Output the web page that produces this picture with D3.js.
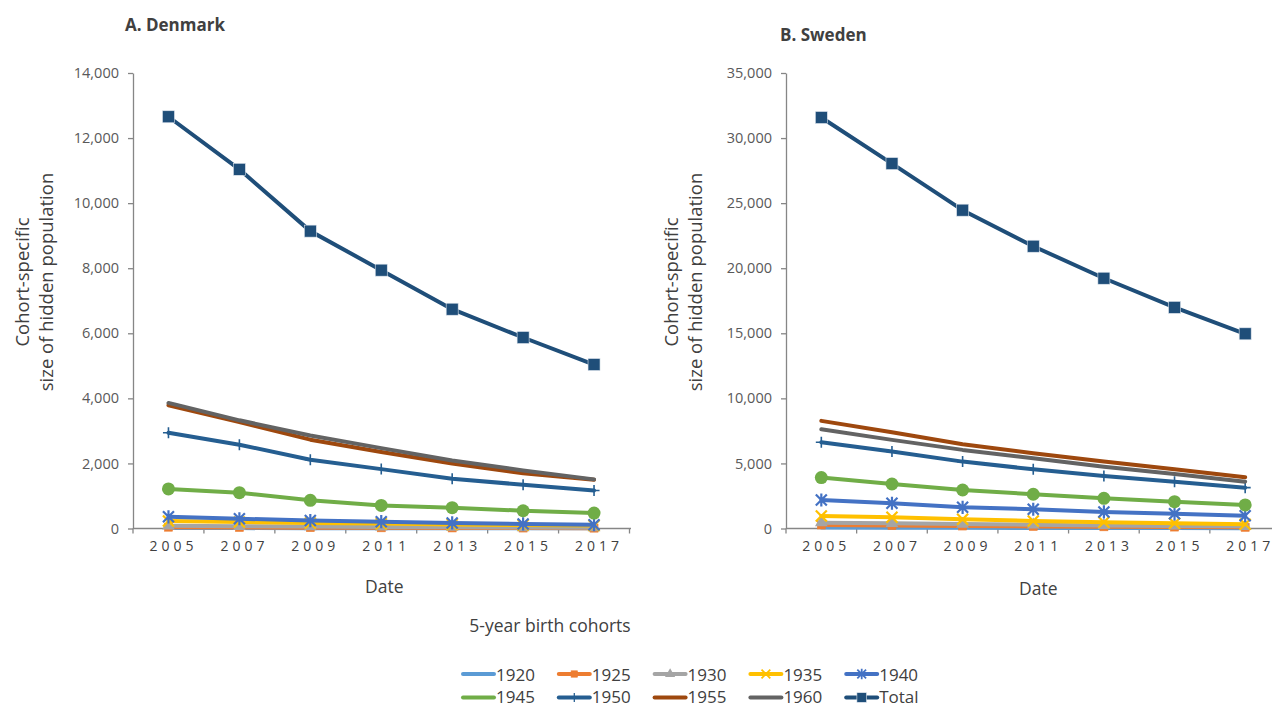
<!DOCTYPE html>
<html>
<head>
<meta charset="utf-8">
<script src="https://cdn.jsdelivr.net/npm/d3@7"></script>
<style>
  body { margin: 0; background: #fff; }
  svg { display: block; }
  text { font-family: "Open Sans", "DejaVu Sans", sans-serif; }
</style>
</head>
<body>
<svg id="chart" width="1279" height="706"></svg>
<script>
// Survey years and 5-year birth cohorts
const years = ["2005", "2007", "2009", "2011", "2013", "2015", "2017"];
const cohorts = ["1920", "1925", "1930", "1935", "1940", "1945", "1950", "1955", "1960", "Total"];

// Denmark: cohort-specific size of hidden population
const dk1920 = [15, 12, 10, 8, 6, 5, 4];
const dk1925 = [40, 32, 26, 21, 17, 14, 11];
const dk1930 = [85, 70, 58, 48, 40, 32, 26];
const dk1935 = [230, 200, 170, 150, 125, 105, 90];
const dk1940 = [360, 300, 245, 210, 170, 140, 118];
const dk1945 = [1215, 1100, 865, 710, 640, 545, 475];
const dk1950 = [2945, 2575, 2115, 1825, 1530, 1345, 1170];
const dk1955 = [3790, 3270, 2730, 2350, 1995, 1700, 1495];
const dk1960 = [3860, 3325, 2860, 2470, 2090, 1785, 1510];
const dkTotal = [12655, 11040, 9140, 7940, 6740, 5870, 5040];

// Sweden: cohort-specific size of hidden population
const se1920 = [80, 65, 55, 45, 38, 30, 25];
const se1925 = [270, 230, 190, 160, 130, 110, 90];
const se1930 = [450, 400, 340, 290, 240, 200, 170];
const se1935 = [960, 860, 710, 580, 480, 400, 325];
const se1940 = [2190, 1940, 1630, 1480, 1270, 1140, 985];
const se1945 = [3910, 3420, 2960, 2630, 2320, 2060, 1810];
const se1950 = [6630, 5910, 5140, 4550, 4040, 3600, 3140];
const se1955 = [8270, 7400, 6480, 5790, 5140, 4550, 3940];
const se1960 = [7630, 6810, 6040, 5400, 4750, 4190, 3600];
const seTotal = [31580, 28040, 24460, 21690, 19230, 16990, 14960];

const dkTicks = [0, 2000, 4000, 6000, 8000, 10000, 12000, 14000];
const seTicks = [0, 5000, 10000, 15000, 20000, 25000, 30000, 35000];

const denmark = [dk1920, dk1925, dk1930, dk1935, dk1940, dk1945, dk1950, dk1955, dk1960, dkTotal];
const sweden = [se1920, se1925, se1930, se1935, se1940, se1945, se1950, se1955, se1960, seTotal];

const colors = ["#5B9BD5", "#ED7D31", "#A5A5A5", "#FFC000", "#4472C4", "#70AD47", "#255E91", "#9E480E", "#636363", "#1F4E79"];
const markers = ["none", "square", "triangle", "x", "asterisk", "circle", "plus", "none", "none", "bigsquare"];

const svg = d3.select("#chart");
const textColor = "#404040";
const axisColor = "#868686";

// Draws one marker symbol centred at (0,0) inside group g
function drawMarker(g, type, color, s) {
  if (type === "none") return;
  if (type === "square" || type === "bigsquare") {
    const w = (type === "bigsquare" ? 12 : 8) * s;
    g.append("rect").attr("x", -w / 2).attr("y", -w / 2).attr("width", w).attr("height", w)
      .attr("fill", color).attr("stroke", type === "bigsquare" ? "#dfe6ee" : color).attr("stroke-width", 0.6);
  } else if (type === "triangle") {
    g.append("path").attr("d", d3.symbol(d3.symbolTriangle, 70 * s * s)()).attr("fill", color);
  } else if (type === "circle") {
    g.append("circle").attr("r", 6.5 * s).attr("fill", color);
  } else if (type === "x") {
    const r = 5.5 * s;
    g.append("path").attr("d", `M${-r},${-r}L${r},${r}M${-r},${r}L${r},${-r}`)
      .attr("stroke", color).attr("stroke-width", 2.2 * s).attr("fill", "none");
  } else if (type === "asterisk") {
    const r = 5.5 * s;
    g.append("path").attr("d", `M${-r},${-r}L${r},${r}M${-r},${r}L${r},${-r}M0,${-r * 1.2}L0,${r * 1.2}`)
      .attr("stroke", color).attr("stroke-width", 2.2 * s).attr("fill", "none");
  } else if (type === "plus") {
    const r = 5.5 * s;
    g.append("path").attr("d", `M${-r},0L${r},0M0,${-r}L0,${r}`)
      .attr("stroke", color).attr("stroke-width", 1.6 * s).attr("fill", "none");
  }
}

function drawPanel(series, opt) {
  const g = svg.append("g");
  const x = d3.scaleBand().domain(years).range([opt.x0, opt.x1]);
  const y = d3.scaleLinear().domain([0, opt.ticks[opt.ticks.length - 1]]).range([528.5, 73]);
  const cx = d => x(d) + x.bandwidth() / 2;

  // Panel title
  g.append("text").attr("x", opt.titleX).attr("y", opt.titleY)
    .attr("font-size", 17).attr("font-weight", 700).attr("fill", textColor)
    .text(opt.title);

  // Y axis
  const ya = g.append("g").attr("transform", `translate(${opt.x0},0)`)
    .call(d3.axisLeft(y).tickValues(opt.ticks).tickFormat(d3.format(",")).tickSize(5).tickPadding(9).tickSizeOuter(0));
  ya.select(".domain").attr("stroke", axisColor).attr("stroke-width", 1.3);
  ya.selectAll(".tick line").attr("stroke", axisColor).attr("stroke-width", 1.3);
  ya.selectAll(".tick text").attr("font-size", 14.5).attr("fill", "#595959").attr("font-family", "Open Sans");

  // X axis: category labels centred in each band, tick marks on band edges
  const xa = g.append("g").attr("transform", "translate(0,528.5)");
  xa.append("line").attr("x1", opt.x0).attr("x2", opt.axisEnd)
    .attr("stroke", axisColor).attr("stroke-width", 1.3);
  const edges = years.map(d => x(d)).concat([x.range()[1]]);
  xa.selectAll(".edge").data(edges.filter(v => v <= opt.axisEnd)).join("line")
    .attr("x1", d => d).attr("x2", d => d).attr("y1", 0).attr("y2", 5)
    .attr("stroke", axisColor).attr("stroke-width", 1.3);
  xa.selectAll(".lab").data(years).join("text")
    .attr("x", d => cx(d) + 5).attr("y", 22)
    .attr("text-anchor", "middle").attr("font-size", 14).attr("letter-spacing", "4px")
    .attr("fill", "#404040").text(d => d);

  // Axis titles
  g.append("text").attr("x", (opt.x0 + x(years[6]) + x.bandwidth()) / 2 + (opt.dateShift || 0)).attr("y", opt.dateY)
    .attr("text-anchor", "middle").attr("font-size", 17.5).attr("fill", textColor).text("Date");
  const yt = g.append("text").attr("transform", `translate(${opt.ytX},282) rotate(-90)`)
    .attr("text-anchor", "middle").attr("font-size", 18.5).attr("fill", textColor);
  yt.append("tspan").attr("x", 0).attr("dy", 0).text("Cohort-specific");
  yt.append("tspan").attr("x", 0).attr("dy", 24).text("size of hidden population");

  // Series lines and markers
  const line = d3.line().x((v, i) => cx(years[i])).y(v => y(v));
  series.forEach((vals, k) => {
    g.append("path").datum(vals).attr("d", line)
      .attr("fill", "none").attr("stroke", colors[k]).attr("stroke-width", 4)
      .attr("stroke-linejoin", "round").attr("stroke-linecap", "round");
    vals.forEach((v, i) => {
      const mg = g.append("g").attr("transform", `translate(${cx(years[i])},${y(v)})`);
      drawMarker(mg, markers[k], colors[k], 1);
    });
  });
}

drawPanel(denmark, { x0: 133, x1: 629.5, axisEnd: 631, ticks: dkTicks, title: "A. Denmark",
  titleX: 125, titleY: 31, dateY: 593, ytX: 29, dateShift: 3 });
drawPanel(sweden, { x0: 786, x1: 1280.5, axisEnd: 1272, ticks: seTicks, title: "B. Sweden",
  titleX: 780, titleY: 41, dateY: 595, ytX: 678, dateShift: 5 });

// Legend
svg.append("text").attr("x", 550).attr("y", 632).attr("text-anchor", "middle")
  .attr("font-size", 17.5).attr("fill", textColor).text("5-year birth cohorts");

const leg = svg.append("g");
cohorts.forEach((c, k) => {
  const col = k % 5, row = Math.floor(k / 5);
  const lx = 463 + col * 95.8, ly = 674 + row * 23.5;
  const it = leg.append("g").attr("transform", `translate(${lx},${ly})`);
  it.append("line").attr("x1", 0).attr("x2", 31).attr("stroke", colors[k]).attr("stroke-width", 4)
    .attr("stroke-linecap", "round");
  const mg = it.append("g").attr("transform", "translate(15.5,0)");
  drawMarker(mg, markers[k], colors[k], markers[k] === "circle" ? 0 : 0.8);
  it.append("text").attr("x", 33).attr("y", row === 1 ? 5 : 6.5).attr("font-size", 17).attr("fill", textColor).text(c);
});
</script>
</body>
</html>
